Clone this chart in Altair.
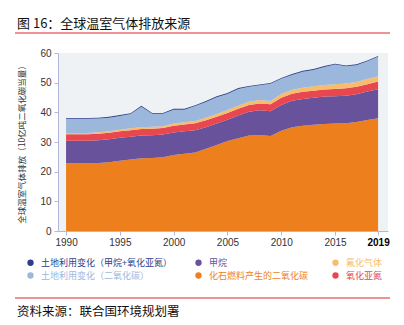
import altair as alt
import pandas as pd

# ---------------- data ----------------
years = list(range(1990, 2020))

fossil_co2 = [22.8, 22.8, 22.8, 22.9, 23.2, 23.7, 24.1, 24.5, 24.6, 24.9,
              25.6, 26.0, 26.5, 27.7, 29.0, 30.3, 31.3, 32.2, 32.4, 32.0,
              33.8, 35.0, 35.5, 35.8, 36.1, 36.2, 36.3, 36.7, 37.4, 38.0]
methane = [7.6, 7.6, 7.6, 7.7, 7.7, 7.7, 7.7, 7.7, 7.7, 7.6,
           7.6, 7.6, 7.5, 7.3, 7.2, 7.2, 7.6, 8.0, 8.3, 8.4,
           8.7, 8.9, 9.0, 9.1, 9.2, 9.2, 9.3, 9.4, 9.6, 9.8]
n2o = [2.2, 2.2, 2.2, 2.2, 2.2, 2.2, 2.2, 2.2, 2.2, 2.2,
       2.3, 2.3, 2.3, 2.3, 2.3, 2.3, 2.3, 2.3, 2.3, 2.3,
       2.4, 2.4, 2.4, 2.4, 2.4, 2.5, 2.5, 2.5, 2.5, 2.6]
f_gases = [0.45, 0.45, 0.45, 0.5, 0.5, 0.55, 0.6, 0.6, 0.65, 0.65,
           0.7, 0.75, 0.8, 0.85, 0.9, 1.0, 1.05, 1.1, 1.15, 1.15,
           1.25, 1.35, 1.4, 1.5, 1.55, 1.6, 1.6, 1.65, 1.7, 1.8]
luc_co2 = [4.75, 4.75, 4.75, 4.6, 4.6, 4.65, 4.8, 6.9, 4.35, 4.15,
           4.7, 4.25, 5.0, 5.35, 5.7, 5.4, 5.65, 5.0, 4.95, 5.75,
           5.15, 4.95, 5.4, 5.5, 6.05, 6.6, 5.8, 5.65, 6.0, 6.5]
luc_other = [0.3, 0.3, 0.3, 0.3, 0.3, 0.3, 0.3, 0.3, 0.3, 0.3,
             0.3, 0.3, 0.3, 0.3, 0.3, 0.3, 0.3, 0.3, 0.3, 0.3,
             0.3, 0.3, 0.3, 0.3, 0.3, 0.3, 0.3, 0.3, 0.3, 0.3]

S_LUC_OTHER = "土地利用变化（甲烷+氧化亚氮）"
S_CH4 = "甲烷"
S_F = "氟化气体"
S_LUC_CO2 = "土地利用变化（二氧化碳）"
S_FOSSIL = "化石燃料产生的二氧化碳"
S_N2O = "氧化亚氮"

# stacking order bottom -> top
stack_series = [S_FOSSIL, S_CH4, S_N2O, S_F, S_LUC_CO2, S_LUC_OTHER]
stack_values = [fossil_co2, methane, n2o, f_gases, luc_co2, luc_other]

# legend order (row-major, 3 columns)
legend_order = [S_LUC_OTHER, S_CH4, S_F, S_LUC_CO2, S_FOSSIL, S_N2O]
legend_colors = ["#2c3e8c", "#67529b", "#f7bd6c", "#9cb7dc", "#ee7f1d", "#e8474f"]

x_ticks = [1990, 1995, 2000, 2005, 2010, 2015, 2019]
y_ticks = [0, 10, 20, 30, 40, 50, 60]

title_text = "图 16：全球温室气体排放来源"
source_text = "资料来源：联合国环境规划署"
y_title = "全球温室气体排放（10亿吨二氧化碳当量）"

rows = []
for k, (name, vals) in enumerate(zip(stack_series, stack_values)):
    for yr, v in zip(years, vals):
        rows.append({"year": yr, "series": name, "value": v, "order": k})
df = pd.DataFrame(rows)

CJK = "Noto Sans CJK SC"
AXIS_C = "#b3b6dd"

areas = alt.Chart(df).mark_area(interpolate="linear").encode(
    x=alt.X("year:Q",
            scale=alt.Scale(domain=[1989.25, 2019.92], nice=False, zero=False),
            axis=alt.Axis(values=x_ticks, format="d", title=None, grid=False,
                          domainColor=AXIS_C, tickColor=AXIS_C, tickSize=4,
                          labelFont="Liberation Sans", labelFontSize=10,
                          labelPadding=2,
                          labelColor=alt.expr("datum.value == 2019 ? '#000' : '#333'"),
                          labelFontWeight=alt.expr("datum.value == 2019 ? 'bold' : 'normal'"))),
    y=alt.Y("value:Q", stack="zero",
            scale=alt.Scale(domain=[0, 60], nice=False),
            axis=alt.Axis(values=y_ticks, title=y_title, grid=False,
                          domainColor=AXIS_C, tickColor=AXIS_C, tickSize=4,
                          labelFont="Liberation Sans", labelFontSize=10,
                          labelColor="#333", labelPadding=3,
                          titleFont=CJK, titleFontSize=8.5, titleColor="#333",
                          titleFontWeight="normal", titlePadding=13)),
    color=alt.Color("series:N",
                    scale=alt.Scale(domain=legend_order, range=legend_colors),
                    legend=alt.Legend(title=None, orient="none", direction="horizontal",
                                      columns=3, legendX=-32, legendY=205,
                                      symbolType="circle", symbolSize=40,
                                      symbolStrokeWidth=0,
                                      labelFont=CJK, labelFontSize=9,
                                      labelOffset=6, rowPadding=3,
                                      columnPadding=22,
                                      labelLimit=300,
                                      labelColor=alt.expr("scale('color', datum.value)"))),
    order=alt.Order("order:Q", sort="ascending"),
)

deco = pd.DataFrame({"t": [title_text]})
title_mark = alt.Chart(deco).mark_text(
    align="left", baseline="middle", font=CJK, fontSize=13, color="#111"
).encode(text="t:N", x=alt.value(-41), y=alt.value(-29))

src = pd.DataFrame({"t": [source_text]})
source_mark = alt.Chart(src).mark_text(
    align="left", baseline="middle", font=CJK, fontSize=12.5, color="#111"
).encode(text="t:N", x=alt.value(-41), y=alt.value(259))

top_line = alt.Chart(deco).mark_rule(color="#e0262c", strokeWidth=1).encode(
    x=alt.value(-43), x2=alt.value(332), y=alt.value(-20))
bottom_line = alt.Chart(deco).mark_rule(color="#e0262c", strokeWidth=1).encode(
    x=alt.value(-43), x2=alt.value(332), y=alt.value(245))

chart = alt.layer(areas, title_mark, source_mark, top_line, bottom_line).properties(
    width=330, height=178,
    padding={"left": 58, "top": 53, "right": 16, "bottom": 94},
    autosize=alt.AutoSizeParams(type="none"),
    background="white",
).configure_view(stroke=None, fill="#eef2f5")

chart.save("out.html", embed_options={"renderer": "svg", "actions": False})
